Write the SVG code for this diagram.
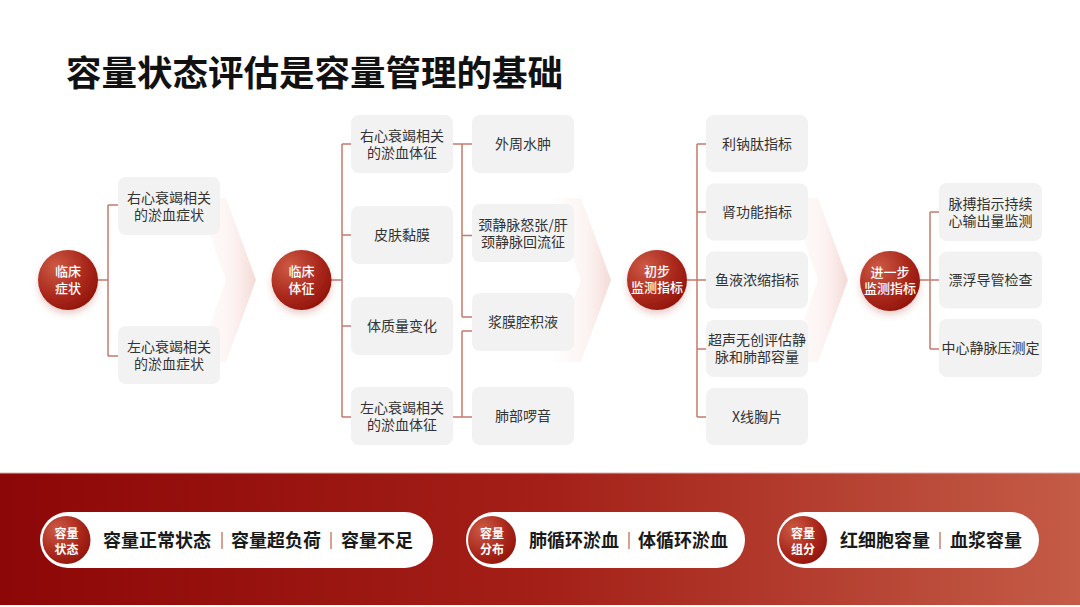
<svg xmlns="http://www.w3.org/2000/svg" width="1080" height="607" viewBox="0 0 1080 607">
<defs>
<radialGradient id="cg" cx="0.3" cy="0.28" r="0.85">
<stop offset="0" stop-color="#cd5a44"/>
<stop offset="0.6" stop-color="#a9271b"/>
<stop offset="1" stop-color="#8e1209"/>
</radialGradient>
<linearGradient id="chev" x1="0" y1="0" x2="1" y2="0">
<stop offset="0" stop-color="#f4d8d4" stop-opacity="0"/>
<stop offset="0.6" stop-color="#f4d8d4" stop-opacity="0.3"/>
<stop offset="1" stop-color="#efc9c4" stop-opacity="0.7"/>
</linearGradient>
<linearGradient id="bar" x1="0" y1="0" x2="1" y2="0">
<stop offset="0" stop-color="#8c0707"/>
<stop offset="0.5" stop-color="#a31f17"/>
<stop offset="1" stop-color="#c45c47"/>
</linearGradient>
<filter id="sh" x="-40%" y="-40%" width="180%" height="190%">
<feDropShadow dx="0" dy="4" stdDeviation="3" flood-color="#b04030" flood-opacity="0.25"/>
</filter>
<style>
.box{fill:#f2f2f2}
.bt{font-family:"Noto Sans CJK SC","Noto Sans",sans-serif;font-size:14px;fill:#333;text-anchor:middle}
.ct{font-family:"Noto Sans CJK SC","Noto Sans",sans-serif;font-size:13px;font-weight:500;fill:#fff;text-anchor:middle}
.ln{stroke:#c47a6d;stroke-width:1.5;fill:none}
.pill{fill:#fff}
.pt{font-family:"Noto Sans CJK SC","Noto Sans",sans-serif;font-size:18px;font-weight:700;fill:#1a1a1a}
.pc{font-family:"Noto Sans CJK SC","Noto Sans",sans-serif;font-size:12px;font-weight:700;fill:#fff;text-anchor:middle}
.sep{stroke:#c0604a;stroke-width:1.2}
.chv{fill:url(#chev)}
</style>
</defs>
<rect width="1080" height="607" fill="#fff"/>
<text x="66" y="86" font-family="'Noto Sans CJK SC','Noto Sans',sans-serif" font-size="35.5" font-weight="700" fill="#111">容量状态评估是容量管理的基础</text>

<g id="chevrons">
<polygon class="chv" points="196,198 226,198 256,280 226,362 196,362 226,280"/>
<polygon class="chv" points="551,198 581,198 611,280 581,362 551,362 581,280"/>
<polygon class="chv" points="788,198 818,198 848,280 818,362 788,362 818,280"/>
</g>

<g id="connectors">
<path class="ln" d="M97,280 H108 M108,205 V356 M108,205 H118 M108,356 H118"/>
<path class="ln" d="M331,280 H342 M342,144 V417 M342,144 H351 M342,235 H351 M342,326 H351 M342,417 H351"/>
<path class="ln" d="M453,144 H472 M462,144 V317 M462,235.5 H472 M462,317 H472"/>
<path class="ln" d="M453,417 H472 M462,331 V417 M462,331 H472"/>
<path class="ln" d="M687,280 H697 M697,144 V417 M697,144 H706 M697,212 H706 M697,280 H706 M697,349 H706 M697,417 H706"/>
<path class="ln" d="M920,280 H930 M930,212 V349 M930,212 H939 M930,280 H939 M930,349 H939"/>
</g>

<g id="n-clinical-symptoms">
<circle cx="68" cy="280" r="30" fill="url(#cg)" filter="url(#sh)"/>
<text class="ct"><tspan x="68" y="276">临床</tspan><tspan x="68" y="293">症状</tspan></text>
</g>
<g id="n-rhf-symptoms">
<rect class="box" x="118" y="177" width="102" height="58" rx="8"/>
<text class="bt"><tspan x="169" y="202.5">右心衰竭相关</tspan><tspan x="169" y="219.5">的淤血症状</tspan></text>
</g>
<g id="n-lhf-symptoms">
<rect class="box" x="118" y="326" width="102" height="58" rx="8"/>
<text class="bt"><tspan x="169" y="351.5">左心衰竭相关</tspan><tspan x="169" y="368.5">的淤血症状</tspan></text>
</g>

<g id="n-clinical-signs">
<circle cx="301.5" cy="280" r="30" fill="url(#cg)" filter="url(#sh)"/>
<text class="ct"><tspan x="301.5" y="276">临床</tspan><tspan x="301.5" y="293">体征</tspan></text>
</g>
<g id="n-rhf-signs">
<rect class="box" x="351" y="115" width="102" height="58" rx="8"/>
<text class="bt"><tspan x="402" y="140.5">右心衰竭相关</tspan><tspan x="402" y="157.5">的淤血体征</tspan></text>
</g>
<g id="n-skin">
<rect class="box" x="351" y="206" width="102" height="58" rx="8"/>
<text class="bt" x="402" y="240">皮肤黏膜</text>
</g>
<g id="n-weight">
<rect class="box" x="351" y="297" width="102" height="58" rx="8"/>
<text class="bt" x="402" y="331">体质量变化</text>
</g>
<g id="n-lhf-signs">
<rect class="box" x="351" y="387" width="102" height="58" rx="8"/>
<text class="bt"><tspan x="402" y="412.5">左心衰竭相关</tspan><tspan x="402" y="429.5">的淤血体征</tspan></text>
</g>
<g id="n-edema">
<rect class="box" x="472" y="115" width="102" height="58" rx="8"/>
<text class="bt" x="523" y="149">外周水肿</text>
</g>
<g id="n-jvd">
<rect class="box" x="472" y="204" width="102" height="58" rx="8"/>
<text class="bt"><tspan x="523" y="229.5">颈静脉怒张/肝</tspan><tspan x="523" y="246.5">颈静脉回流征</tspan></text>
</g>
<g id="n-effusion">
<rect class="box" x="472" y="293" width="102" height="58" rx="8"/>
<text class="bt" x="523" y="327">浆膜腔积液</text>
</g>
<g id="n-rales">
<rect class="box" x="472" y="387" width="102" height="58" rx="8"/>
<text class="bt" x="523" y="421">肺部啰音</text>
</g>

<g id="n-initial">
<circle cx="657" cy="280" r="30" fill="url(#cg)" filter="url(#sh)"/>
<text class="ct" font-size="12"><tspan x="657" y="276">初步</tspan><tspan x="657" y="292">监测指标</tspan></text>
</g>
<g id="n-bnp">
<rect class="box" x="706" y="115" width="102" height="57" rx="8"/>
<text class="bt" x="757" y="148.5">利钠肽指标</text>
</g>
<g id="n-renal">
<rect class="box" x="706" y="183.5" width="102" height="57" rx="8"/>
<text class="bt" x="757" y="217">肾功能指标</text>
</g>
<g id="n-hemo">
<rect class="box" x="706" y="251.5" width="102" height="57" rx="8"/>
<text class="bt" x="757" y="285">鱼液浓缩指标</text>
</g>
<g id="n-us">
<rect class="box" x="706" y="320" width="102" height="57" rx="8"/>
<text class="bt"><tspan x="757" y="345">超声无创评估静</tspan><tspan x="757" y="362">脉和肺部容量</tspan></text>
</g>
<g id="n-xray">
<rect class="box" x="706" y="388" width="102" height="57" rx="8"/>
<text class="bt" x="757" y="421.5">X线胸片</text>
</g>

<g id="n-further">
<circle cx="890" cy="281" r="30" fill="url(#cg)" filter="url(#sh)"/>
<text class="ct" font-size="12"><tspan x="890" y="277">进一步</tspan><tspan x="890" y="293">监测指标</tspan></text>
</g>
<g id="n-picco">
<rect class="box" x="939" y="183" width="103" height="58" rx="8"/>
<text class="bt"><tspan x="990.5" y="208.5">脉搏指示持续</tspan><tspan x="990.5" y="225.5">心输出量监测</tspan></text>
</g>
<g id="n-swan">
<rect class="box" x="939" y="251.5" width="103" height="57" rx="8"/>
<text class="bt" x="990.5" y="285">漂浮导管检查</text>
</g>
<g id="n-cvp">
<rect class="box" x="939" y="319" width="103" height="58" rx="8"/>
<text class="bt" x="990.5" y="353">中心静脉压测定</text>
</g>

<g id="bottom-bar">
<rect x="0" y="473" width="1080" height="132" fill="url(#bar)"/>
<line x1="0" y1="473" x2="1080" y2="473" stroke="#d9b0aa" stroke-width="1"/>
</g>
<g id="n-state">
<rect class="pill" x="40" y="512" width="393" height="56" rx="28"/>
<circle cx="66.5" cy="540" r="24" fill="url(#cg)"/>
<text class="pc"><tspan x="66.5" y="538">容量</tspan><tspan x="66.5" y="554">状态</tspan></text>
<text class="pt" x="103" y="546.5">容量正常状态</text>
<line class="sep" x1="222" y1="532" x2="222" y2="549"/>
<text class="pt" x="231" y="546.5">容量超负荷</text>
<line class="sep" x1="331" y1="532" x2="331" y2="549"/>
<text class="pt" x="341" y="546.5">容量不足</text>
</g>
<g id="n-distribution">
<rect class="pill" x="466" y="512" width="279" height="56" rx="28"/>
<circle cx="492" cy="540" r="24" fill="url(#cg)"/>
<text class="pc"><tspan x="492" y="538">容量</tspan><tspan x="492" y="554">分布</tspan></text>
<text class="pt" x="529" y="546.5">肺循环淤血</text>
<line class="sep" x1="629" y1="532" x2="629" y2="549"/>
<text class="pt" x="638" y="546.5">体循环淤血</text>
</g>
<g id="n-components">
<rect class="pill" x="777" y="512" width="262" height="56" rx="28"/>
<circle cx="803" cy="540" r="24" fill="url(#cg)"/>
<text class="pc"><tspan x="803" y="538">容量</tspan><tspan x="803" y="554">组分</tspan></text>
<text class="pt" x="840" y="546.5">红细胞容量</text>
<line class="sep" x1="940" y1="532" x2="940" y2="549"/>
<text class="pt" x="950" y="546.5">血浆容量</text>
</g>
</svg>
